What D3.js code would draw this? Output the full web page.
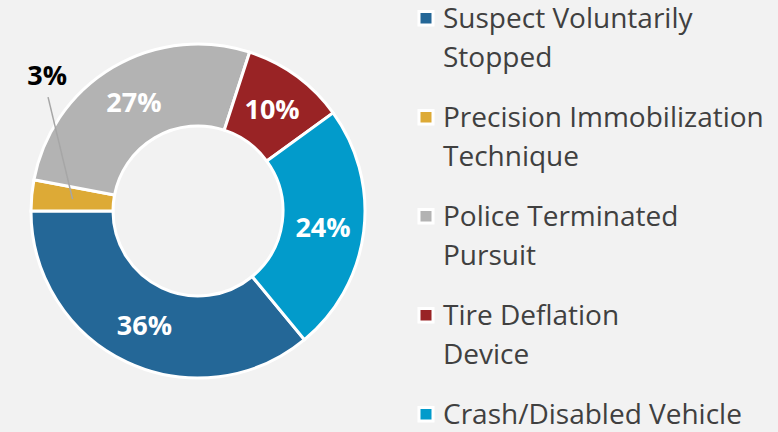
<!DOCTYPE html>
<html><head><meta charset="utf-8">
<script src="https://cdn.jsdelivr.net/npm/d3@7"></script>
<style>
html,body{margin:0;padding:0;background:#F2F2F2;}
svg{display:block;}
</style></head>
<body>
<svg id="chart" width="778" height="432"></svg>
<script>
const categories = ["Suspect Voluntarily Stopped","Precision Immobilization Technique","Police Terminated Pursuit","Tire Deflation Device","Crash/Disabled Vehicle"];
const legendLines = [["Suspect Voluntarily","Stopped"],["Precision Immobilization","Technique"],["Police Terminated","Pursuit"],["Tire Deflation","Device"],["Crash/Disabled Vehicle"]];
const values = [36, 3, 27, 10, 24];
const colors = ["#246797","#DDAA36","#B3B3B3","#992325","#029BCB"];

const svg = d3.select("#chart");
const W = 778, H = 432;
svg.append("rect").attr("width",W).attr("height",H).attr("fill","#F2F2F2");

const cx = 198, cy = 211, rOuter = 167, rInner = 85;
const start = 140.4 * Math.PI/180;
const pie = d3.pie().sort(null).value(d=>d).startAngle(start).endAngle(start + 2*Math.PI);
const arcs = pie(values);
const arc = d3.arc().innerRadius(rInner).outerRadius(rOuter);
const labelArc = d3.arc().innerRadius((rInner+rOuter)/2).outerRadius((rInner+rOuter)/2);

const g = svg.append("g").attr("transform",`translate(${cx},${cy})`);
g.selectAll("path.slice").data(arcs).enter().append("path")
  .attr("class","slice")
  .attr("d",arc)
  .attr("fill",(d,i)=>colors[i])
  .attr("stroke","#FFFFFF").attr("stroke-width",3).attr("stroke-linejoin","miter");

const fmt = v => Math.round(v) + "%";
const total = d3.sum(values);

arcs.forEach((d,i)=>{
  const [x,y] = labelArc.centroid(d);
  const pct = fmt(values[i]/total*100);
  if (values[i]/total < 0.05) {
    // label pulled outside with leader line
    const lx = x - 25.5, ly = y - 124;
    g.append("line").attr("x1",lx+1).attr("y1",ly+22).attr("x2",x).attr("y2",y)
      .attr("stroke","#A6A6A6").attr("stroke-width",1.5);
    g.append("text").attr("x",lx).attr("y",ly).attr("dy","0.36em")
      .attr("text-anchor","middle")
      .attr("font-family","'Open Sans', sans-serif").attr("font-weight",700)
      .attr("font-size",27).attr("fill","#000000").text(pct);
  } else {
    g.append("text").attr("x",x).attr("y",y).attr("dy","0.36em")
      .attr("text-anchor","middle")
      .attr("font-family","'Open Sans', sans-serif").attr("font-weight",700)
      .attr("font-size",27).attr("fill","#FFFFFF").text(pct);
  }
});

// legend
const lg = svg.append("g");
const ly0 = 27.5, entryGap = 99, lineGap = 39;
categories.forEach((c,i)=>{
  const by = ly0 + i*entryGap;
  lg.append("rect").attr("x",419).attr("y",by-16).attr("width",14).attr("height",13.5)
    .attr("fill",colors[i]).attr("stroke","#FFFFFF").attr("stroke-width",3);
  const t = lg.append("text").attr("font-family","'Open Sans', sans-serif")
    .attr("font-size",28).attr("fill","#404040");
  legendLines[i].forEach((ln,j)=>{
    t.append("tspan").attr("x",443).attr("y",by + j*lineGap).text(ln);
  });
});
</script>
</body></html>
